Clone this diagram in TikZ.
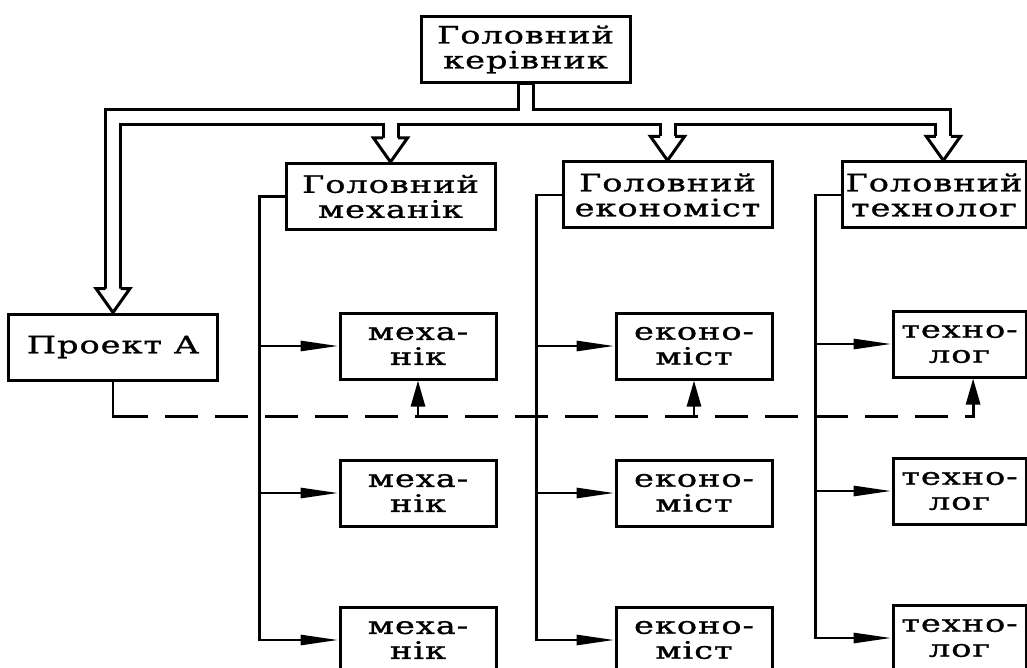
\documentclass[tikz,border=0pt]{standalone}
\usepackage{fontspec}
\setmainfont{DejaVu Serif}[FakeStretch=1.4, LetterSpace=4, FakeBold=1.2]
\usepackage{tikz}
\usetikzlibrary{arrows.meta, calc}
\tikzset{
    headbox/.style={
        rectangle, draw, line width=3pt, fill=white,
        minimum width=209pt, minimum height=66pt,
        align=center, inner sep=2pt,
        font=\fontsize{24pt}{25pt}\selectfont
    },
    subbox/.style={headbox, minimum width=156pt},
    link/.style={draw, line width=2.8pt},
    arr/.style={link, -{Triangle[length=38pt,width=10pt]}},
    uparr/.style={link, -{Triangle[length=26pt,width=14pt]}},
    dashline/.style={link, dash pattern=on 33pt off 17pt, dash phase=33pt},
    % hollow "pipe" arrows from the boss
    pipeout/.style={draw=black, line width=18pt},
    pipein/.style={draw=white, line width=12pt},
    pipehead/.style={draw=black, fill=white, line width=3pt}
}

\begin{document}
\begin{tikzpicture}[x=1pt, y=-1pt]
        \useasboundingbox (0,0) rectangle (1027,668);
        \clip (0,0) rectangle (1027,668);

        % Layout
        \node [headbox] (boss) at (525.5, 49.5) {Головний\\керівник};
        \node [headbox] (hmech) at (390.5, 196.5) {Головний\\механік};
        \node [headbox] (hecon) at (667.5, 195) {Головний\\економіст};
        \node [headbox, minimum width=184pt] (htech) at (934, 195) {Головний\\технолог};
        \node [headbox] (projA) at (113, 347) {Проект А};

        \foreach \r/\y in {1/346, 2/493, 3/640} {
            \node [subbox] (mech\r) at (418, \y) {меха-\\нік};
            \node [subbox] (econ\r) at (694, \y) {еконо-\\міст};
            \node [subbox, minimum width=133pt] (tech\r) at (959.5, \y-2) {техно-\\лог};
        }

        % Pipes
        \foreach \t/\f in {projA/0.5, hmech/0.5, hecon/0.5, htech/0.55}
            \draw [pipeout] (boss.south) -- ++(0, 33) -| ($($(\t.north west)!\f!(\t.north east)$)+(0, -24)$);
        \foreach \t/\f in {projA/0.5, hmech/0.5, hecon/0.5, htech/0.55}
            \draw [pipein] ($(boss.south)+(0, 1.5)$) -- ++(0, 31.5) -| ($($(\t.north west)!\f!(\t.north east)$)+(0, -24)$);
        \foreach \t/\f in {projA/0.5, hmech/0.5, hecon/0.5, htech/0.55}
            \filldraw [pipehead] ($($(\t.north west)!\f!(\t.north east)$)+(-7.5, -24)$) -- ++(-9.5, 0)
                -- ($(\t.north west)!\f!(\t.north east)$) -- ++(17, -24) -- ++(-9.5, 0);

        % Flows
        \foreach \col in {mech, econ, tech} {
            \coordinate (\col col) at ($(h\col.west)+(-25, 0)$);
            \draw [arr] (h\col.west) -- (\col col) |- (\col3.west);
            \draw [arr] (\col1.west -| \col col) -- (\col1.west);
            \draw [arr] (\col2.west -| \col col) -- (\col2.west);
        }

        \draw [link] (projA.south) |- ++(35, 35) coordinate (d0);
        \draw [dashline, -{Triangle[length=26pt,width=14pt]}] (d0) -| ($(tech1.south west)!0.6!(tech1.south east)$);
        \draw [uparr] (mech1.south |- d0) -- (mech1.south);
        \draw [uparr] (econ1.south |- d0) -- (econ1.south);
    \end{tikzpicture}
\end{document}
